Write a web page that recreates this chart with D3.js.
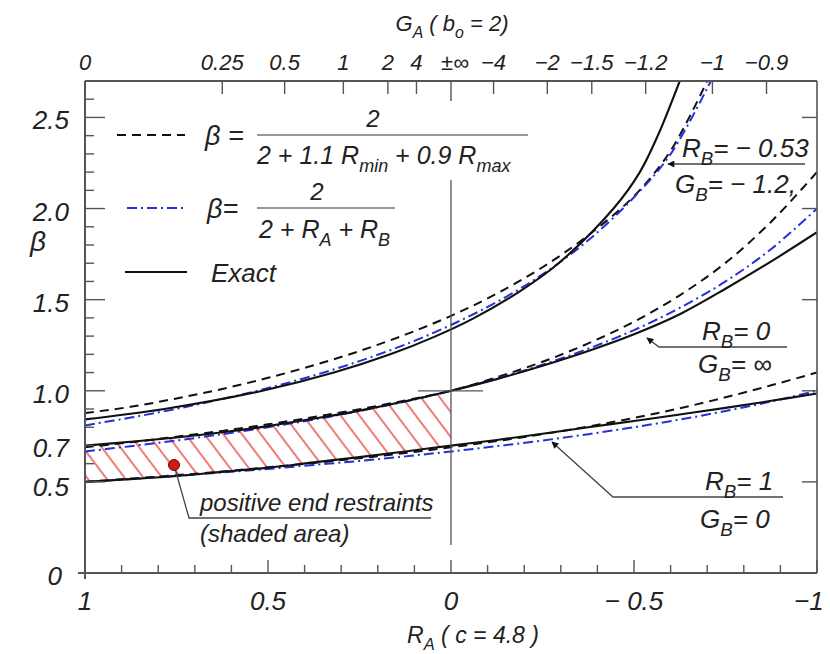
<!DOCTYPE html>
<html>
<head>
<meta charset="utf-8">
<script src="https://cdn.jsdelivr.net/npm/d3@7"></script>
<style>
  body { margin: 0; background: #fff; }
  svg { font-family: 'Liberation Sans', Arial, sans-serif; font-style: italic; }
</style>
</head>
<body>
<div id="chart"></div>
<script>
// R_A positions at which the curves were read
const rA = [1, 0.875, 0.75, 0.625, 0.5, 0.375, 0.25, 0.125, 0, -0.125, -0.25, -0.375, -0.5, -0.625, -0.75, -0.875, -1];

// R_B = 1 (G_B = 0)
const exactRB1 = [0.5, 0.515, 0.532, 0.555, 0.578, 0.607, 0.636, 0.667, 0.699, 0.73, 0.764, 0.8, 0.834, 0.87, 0.906, 0.945, 0.985];
const dashRB1  = [0.5, 0.518, 0.537, 0.557, 0.58, 0.604, 0.63, 0.658, 0.69, 0.724, 0.762, 0.804, 0.851, 0.904, 0.964, 1.03, 1.1];
const blueRB1  = [0.5, 0.516, 0.533, 0.552, 0.571, 0.593, 0.615, 0.64, 0.667, 0.696, 0.727, 0.762, 0.8, 0.842, 0.889, 0.941, 1.0];

// R_B = 0 (G_B = inf)
const exactRB0 = [0.699, 0.72, 0.744, 0.772, 0.806, 0.847, 0.891, 0.942, 1.0, 1.064, 1.137, 1.218, 1.31, 1.42, 1.56, 1.71, 1.87];
const dashRB0  = [0.69, 0.717, 0.748, 0.78, 0.816, 0.856, 0.899, 0.947, 1.0, 1.074, 1.159, 1.26, 1.379, 1.524, 1.702, 1.928, 2.2];
const blueRB0  = [0.667, 0.696, 0.727, 0.762, 0.8, 0.842, 0.889, 0.941, 1.0, 1.067, 1.143, 1.231, 1.333, 1.455, 1.6, 1.778, 2.0];

// R_B = -0.53 (G_B = -1.2), curves leave the top of the frame
const exactTopR = [1, 0.783, 0.515, 0.32, 0.166, 0.041, -0.064, -0.191, -0.294, -0.444, -0.516, -0.565, -0.625];
const exactTop  = [0.843, 0.9, 1.0, 1.1, 1.2, 1.3, 1.4, 1.55, 1.7, 2.0, 2.2, 2.4, 2.7];
const dashTopR  = [1, 0.875, 0.75, 0.625, 0.5, 0.375, 0.25, 0.125, 0, -0.125, -0.25, -0.375, -0.5, -0.6, -0.7];
const dashTop   = [0.878, 0.912, 0.958, 1.01, 1.071, 1.14, 1.218, 1.308, 1.411, 1.533, 1.678, 1.853, 2.068, 2.317, 2.7];
const blueTopR  = [1, 0.875, 0.75, 0.625, 0.5, 0.375, 0.25, 0.125, 0, -0.125, -0.25, -0.375, -0.5, -0.6, -0.71];
const blueTop   = [0.81, 0.853, 0.901, 0.955, 1.015, 1.084, 1.163, 1.254, 1.361, 1.487, 1.639, 1.826, 2.062, 2.299, 2.7];

// axis labels
const bottomTicks = [1, 0.5, 0, -0.5, -1];
const bottomLabels = ['1', '0.5', '0', '\u2212 0.5', '\u22121'];
const leftTicks = [0, 0.5, 0.7, 1.0, 1.5, 2.0, 2.5];
const leftLabels = ['0', '0.5', '0.7', '1.0', '1.5', '2.0', '2.5'];
const gTicks = [0, 0.25, 0.5, 1, 2, 4, Infinity, -4, -2, -1.5, -1.2, -1, -0.9];
const gLabels = ['0', '0.25', '0.5', '1', '2', '4', '\u00b1\u221e', '\u22124', '\u22122', '\u22121.5', '\u22121.2', '\u22121', '\u22120.9'];

const W = 830, H = 654;
const x = d3.scaleLinear().domain([1, -1]).range([85, 817]);
const y = d3.scaleLinear().domain([0, 2.7]).range([573, 81]);
// G_A -> R_A with b0 = 2, c = 4.8
const gToR = g => isFinite(g) ? 2 / (2 + 4.8 * g) : 0;

const BLUE = '#2430d8';

const svg = d3.select('#chart').append('svg')
  .attr('width', W)
  .attr('height', H);

const defs = svg.append('defs');
defs.append('clipPath').attr('id', 'plotclip')
  .append('rect')
  .attr('x', x(1)).attr('y', y(2.7))
  .attr('width', x(-1) - x(1)).attr('height', y(0) - y(2.7));

const pat = defs.append('pattern')
  .attr('id', 'hatch')
  .attr('patternUnits', 'userSpaceOnUse')
  .attr('width', 15).attr('height', 15)
  .attr('patternTransform', 'rotate(-37)');
pat.append('line')
  .attr('x1', 7).attr('y1', 0).attr('x2', 7).attr('y2', 15)
  .attr('stroke', '#e5352e').attr('stroke-width', 1.3);

function zip(rs, vs) { return rs.map((r, i) => [r, vs[i]]); }

const line = d3.line()
  .x(d => x(d[0]))
  .y(d => y(d[1]))
  .curve(d3.curveCatmullRom);

const plot = svg.append('g').attr('clip-path', 'url(#plotclip)');

// shaded area: positive end restraints
const nPos = rA.filter(r => r >= 0).length;
const area = d3.area()
  .x(d => x(d.r))
  .y0(d => y(d.lo))
  .y1(d => y(d.hi))
  .curve(d3.curveCatmullRom);
plot.append('path')
  .datum(rA.slice(0, nPos).map((r, i) => ({ r: r, lo: exactRB1[i], hi: exactRB0[i] })))
  .attr('d', area)
  .attr('fill', 'url(#hatch)');

const series = [
  { d: zip(rA, dashRB1), type: 'dash' },
  { d: zip(rA, dashRB0), type: 'dash' },
  { d: zip(dashTopR, dashTop), type: 'dash' },
  { d: zip(rA, blueRB1), type: 'blue' },
  { d: zip(rA, blueRB0), type: 'blue' },
  { d: zip(blueTopR, blueTop), type: 'blue' },
  { d: zip(rA, exactRB1), type: 'exact' },
  { d: zip(rA, exactRB0), type: 'exact' },
  { d: zip(exactTopR, exactTop), type: 'exact' }
];

const styles = {
  dash: { stroke: '#111', dash: '9,6', w: 2 },
  blue: { stroke: BLUE, dash: '10,4,2,4', w: 2 },
  exact: { stroke: '#111', dash: null, w: 2.1 }
};

plot.selectAll('.curve')
  .data(series)
  .enter()
  .append('path')
  .attr('class', 'curve')
  .attr('d', s => line(s.d))
  .attr('fill', 'none')
  .attr('stroke', s => styles[s.type].stroke)
  .attr('stroke-width', s => styles[s.type].w)
  .attr('stroke-dasharray', s => styles[s.type].dash);

// frame
const axisColor = '#555';
svg.append('line').attr('x1', x(1)).attr('x2', x(-1)).attr('y1', y(2.7)).attr('y2', y(2.7))
  .attr('stroke', axisColor).attr('stroke-width', 2);
svg.append('line').attr('x1', x(-1)).attr('x2', x(-1)).attr('y1', y(2.7)).attr('y2', y(0))
  .attr('stroke', axisColor).attr('stroke-width', 1.6);
svg.append('line').attr('x1', x(1) - 7).attr('x2', x(-1)).attr('y1', y(0)).attr('y2', y(0))
  .attr('stroke', axisColor).attr('stroke-width', 2);
svg.append('line').attr('x1', x(1)).attr('x2', x(1)).attr('y1', y(2.7)).attr('y2', y(0) + 6)
  .attr('stroke', axisColor).attr('stroke-width', 2);

// bottom ticks (pointing up)
const bTicks = d3.range(-10, 11).map(i => i / 10);
svg.selectAll('.btick').data(bTicks).enter().append('line')
  .attr('x1', d => x(d)).attr('x2', d => x(d))
  .attr('y1', y(0))
  .attr('y2', d => Math.abs(Math.round(d * 10)) % 5 === 0 ? y(0) - 13 : y(0) - 8)
  .attr('stroke', axisColor).attr('stroke-width', 1.4);
svg.selectAll('.blabel').data(bottomTicks).enter().append('text')
  .attr('x', d => x(d) + (d === -1 ? -8 : 0))
  .attr('y', 610)
  .attr('text-anchor', 'middle')
  .attr('font-size', 26)
  .attr('fill', '#222')
  .text((d, i) => bottomLabels[i]);

// left and right ticks
const lTicks = d3.range(5, 27).map(i => i / 10);
svg.selectAll('.ltick').data(lTicks).enter().append('line')
  .attr('x1', x(1))
  .attr('x2', d => Math.round(d * 10) % 5 === 0 ? x(1) + 20 : x(1) + 9)
  .attr('y1', d => y(d)).attr('y2', d => y(d))
  .attr('stroke', axisColor).attr('stroke-width', 1.4);
svg.selectAll('.rtick').data([0.5, 1.0, 1.5, 2.0, 2.5]).enter().append('line')
  .attr('x1', x(-1) - 15).attr('x2', x(-1))
  .attr('y1', d => y(d)).attr('y2', d => y(d))
  .attr('stroke', axisColor).attr('stroke-width', 1.4);
svg.selectAll('.llabel').data(leftTicks).enter().append('text')
  .attr('x', d => d === 0 ? 62 : 69)
  .attr('y', d => y(d) + (d === 0.5 ? 14 : 12))
  .attr('text-anchor', 'end')
  .attr('font-size', 26)
  .attr('fill', '#222')
  .text((d, i) => leftLabels[i]);

// top G_A ticks
svg.selectAll('.ttick').data(gTicks).enter().append('line')
  .attr('x1', d => x(gToR(d))).attr('x2', d => x(gToR(d)))
  .attr('y1', y(2.7))
  .attr('y2', d => isFinite(d) ? y(2.7) + 13 : y(2.7) + 20)
  .attr('stroke', axisColor).attr('stroke-width', 1.4);
svg.selectAll('.tlabel').data(gTicks).enter().append('text')
  .attr('x', d => x(gToR(d)) + (isFinite(d) ? 0 : 4))
  .attr('y', 70)
  .attr('text-anchor', 'middle')
  .attr('font-size', 22)
  .attr('fill', '#222')
  .text((d, i) => gLabels[i]);

// text with subscripts: parts = [[text, isSub], ...]
function rich(g, px, py, parts, size, anchor) {
  const t = g.append('text')
    .attr('x', px).attr('y', py)
    .attr('font-size', size)
    .attr('fill', '#222')
    .attr('text-anchor', anchor || 'start');
  let shifted = false;
  parts.forEach(p => {
    const ts = t.append('tspan').text(p[0]);
    if (p[1] && !shifted) { ts.attr('dy', size * 0.3).attr('font-size', size * 0.72); shifted = true; }
    else if (p[1]) { ts.attr('font-size', size * 0.72); }
    else if (shifted) { ts.attr('dy', -size * 0.3); shifted = false; }
  });
  return t;
}

// axis titles
rich(svg, 452, 31, [['G'], ['A', 1], [' ( b'], ['o', 1], [' = 2)']], 22, 'middle');
rich(svg, 473, 643, [['R'], ['A', 1], ['  ( c = 4.8 )']], 23, 'middle');
svg.append('text').attr('x', 30).attr('y', 251).attr('font-size', 28).attr('fill', '#222').text('\u03b2');

// legend
const leg = svg.append('g');
leg.append('line').attr('x1', 117).attr('x2', 185).attr('y1', 135).attr('y2', 135)
  .attr('stroke', '#111').attr('stroke-width', 2).attr('stroke-dasharray', '9,6');
leg.append('line').attr('x1', 127).attr('x2', 186).attr('y1', 208).attr('y2', 208)
  .attr('stroke', BLUE).attr('stroke-width', 2).attr('stroke-dasharray', '10,4,2,4');
leg.append('line').attr('x1', 125).attr('x2', 187).attr('y1', 272).attr('y2', 272)
  .attr('stroke', '#111').attr('stroke-width', 2);

leg.append('text').attr('x', 205).attr('y', 145).attr('font-size', 27).attr('fill', '#222').text('\u03b2 =');
leg.append('text').attr('x', 373).attr('y', 127).attr('font-size', 24).attr('fill', '#222').attr('text-anchor', 'middle').text('2');
leg.append('line').attr('x1', 257).attr('x2', 528).attr('y1', 135).attr('y2', 135).attr('stroke', '#333').attr('stroke-width', 1.2);
rich(leg, 257, 164, [['2 + 1.1 R'], ['min', 1], [' + 0.9 R'], ['max', 1]], 25);

leg.append('text').attr('x', 207).attr('y', 218).attr('font-size', 27).attr('fill', '#222').text('\u03b2=');
leg.append('text').attr('x', 317).attr('y', 200).attr('font-size', 24).attr('fill', '#222').attr('text-anchor', 'middle').text('2');
leg.append('line').attr('x1', 257).attr('x2', 395).attr('y1', 208).attr('y2', 208).attr('stroke', '#333').attr('stroke-width', 1.2);
rich(leg, 259, 238, [['2 + R'], ['A', 1], [' + R'], ['B', 1]], 25);

leg.append('text').attr('x', 211).attr('y', 282).attr('font-size', 26).attr('fill', '#222').text('Exact');

// reference lines at R_A = 0
svg.append('line').attr('x1', x(0)).attr('x2', x(0)).attr('y1', 180).attr('y2', 545)
  .attr('stroke', '#555').attr('stroke-width', 1.3);
svg.append('line').attr('x1', x(0) - 33).attr('x2', x(0) + 32).attr('y1', y(1)).attr('y2', y(1))
  .attr('stroke', '#555').attr('stroke-width', 1.3);

// annotations
defs.append('marker').attr('id', 'arr')
  .attr('viewBox', '0 0 10 10').attr('refX', 9).attr('refY', 5)
  .attr('markerWidth', 9).attr('markerHeight', 7).attr('orient', 'auto')
  .attr('markerUnits', 'userSpaceOnUse')
  .append('path').attr('d', 'M0,0 L10,5 L0,10 z').attr('fill', '#111');

function leader(pts) {
  svg.append('path')
    .attr('d', d3.line()(pts.slice().reverse()))
    .attr('fill', 'none').attr('stroke', '#444').attr('stroke-width', 1.3)
    .attr('marker-end', 'url(#arr)');
}

leader([[668, 164], [805, 164]]);
rich(svg, 682, 157, [['R'], ['B', 1], ['= \u2212 0.53']], 26);
rich(svg, 675, 193, [['G'], ['B', 1], ['= \u2212 1.2,']], 26);

leader([[647, 338], [659, 347], [787, 347]]);
rich(svg, 702, 340, [['R'], ['B', 1], ['= 0']], 26);
rich(svg, 698, 373, [['G'], ['B', 1], ['= \u221e']], 26);

leader([[552, 442], [613, 497], [783, 497]]);
rich(svg, 705, 490, [['R'], ['B', 1], ['= 1']], 26);
rich(svg, 700, 528, [['G'], ['B', 1], ['= 0']], 26);

// shaded area note
svg.append('path')
  .attr('d', d3.line()([[174, 465], [189, 518], [431, 518]]))
  .attr('fill', 'none').attr('stroke', '#444').attr('stroke-width', 1.3);
svg.append('circle').attr('cx', 174).attr('cy', 465).attr('r', 5.5)
  .attr('fill', '#d11a1a').attr('stroke', '#7a0000').attr('stroke-width', 1);
svg.append('text').attr('x', 200).attr('y', 511).attr('font-size', 24).attr('fill', '#222').text('positive end restraints');
svg.append('text').attr('x', 200).attr('y', 542).attr('font-size', 24).attr('fill', '#222').text('(shaded area)');
</script>
</body>
</html>
